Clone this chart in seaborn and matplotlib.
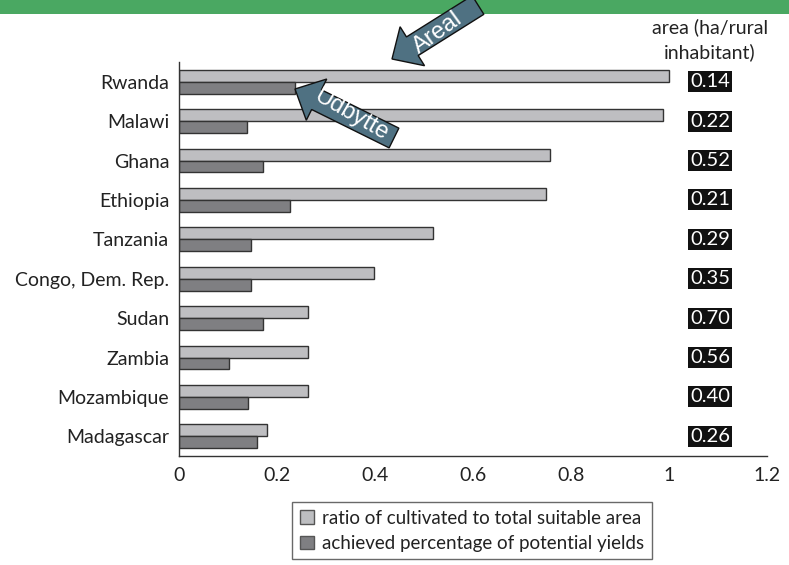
import numpy as np
import pandas as pd
import seaborn as sns
import matplotlib.pyplot as plt
import matplotlib.patches as mpatches

# donnees
countries = ["Rwanda", "Malawi", "Ghana", "Ethiopia", "Tanzania",
             "Congo, Dem. Rep.", "Sudan", "Zambia", "Mozambique", "Madagascar"]
ratio_area = [1.0, 0.988, 0.757, 0.748, 0.518, 0.397, 0.263, 0.263, 0.263, 0.179]
pct_yield = [0.236, 0.139, 0.171, 0.226, 0.146, 0.146, 0.171, 0.102, 0.141, 0.159]
area_labels = ["0.14", "0.22", "0.52", "0.21", "0.29", "0.35", "0.70", "0.56", "0.40", "0.26"]
series = ["ratio of cultivated to total suitable area",
          "achieved percentage of potential yields"]
x_ticks = [0, 0.2, 0.4, 0.6, 0.8, 1, 1.2]
x_ticklabels = ["0", "0.2", "0.4", "0.6", "0.8", "1", "1.2"]

df = pd.DataFrame({
    "country": countries * 2,
    "value": ratio_area + pct_yield,
    "serie": [series[0]] * len(countries) + [series[1]] * len(countries),
})

sns.set_style("white")
plt.rcParams['font.family'] = ['Lato', 'DejaVu Sans']
txt = '#222222'

W, H = 789, 565
fig = plt.figure(figsize=(W / 100, H / 100), dpi=100)
ax = fig.add_axes([179 / W, 1 - 456 / H, 588 / W, (456 - 62) / H])

sns.barplot(data=df, x="value", y="country", hue="serie", orient="h",
            palette=["#bdbec1", "#7f7f82"], width=0.6, edgecolor="#333333",
            linewidth=1, legend=False, ax=ax)

ax.set_xlim(0, 1.2)
ax.set_ylim(len(countries) - 0.5, -0.5)
ax.set_xlabel("")
ax.set_ylabel("")
ax.set_xticks(x_ticks)
ax.set_xticklabels(x_ticklabels, fontsize=14, color=txt)

# ticks aux limites des categories, etiquettes au centre
ax.set_yticks(np.arange(len(countries) - 1) + 0.5)
ax.set_yticklabels([])
ax.set_yticks(np.arange(len(countries)), minor=True)
ax.set_yticklabels(countries, minor=True, fontsize=14, color=txt)
ax.tick_params(axis="y", which="major", direction="out", length=6, width=1, color="#333333")
ax.tick_params(axis="y", which="minor", length=0, pad=7)
ax.tick_params(axis="x", direction="out", length=6, width=1, color="#333333", pad=2)
for s in ["top", "right"]:
    ax.spines[s].set_visible(False)
for s in ["left", "bottom"]:
    ax.spines[s].set_color("#333333")
    ax.spines[s].set_linewidth(1)

# surface par habitant rural
for i, lab in enumerate(area_labels):
    ax.text(1.084, i, lab, ha="center", va="center", fontsize=14.5, color="white",
            bbox=dict(boxstyle="square,pad=0.1", facecolor="#111111", edgecolor="none"))
fig.text(710 / W, 1 - 27 / H, "area (ha/rural", ha="center", va="center", fontsize=14, color=txt)
fig.text(710 / W, 1 - 52 / H, "inhabitant)", ha="center", va="center", fontsize=14, color=txt)

# bandeau vert
fig.add_artist(mpatches.Rectangle((0, 1 - 14 / H), 1, 14 / H, transform=fig.transFigure,
                                  facecolor="#4aa862", edgecolor="none", zorder=5))

# fleches
def pix(x, y):
    return x / 100, (H - y) / 100

def fleche(tail, tip, label, rot, center):
    x0, y0 = pix(*tail)
    x1, y1 = pix(*tip)
    arr = mpatches.FancyArrow(x0, y0, x1 - x0, y1 - y0, width=0.22, head_width=0.46,
                              head_length=0.24, length_includes_head=True,
                              transform=fig.dpi_scale_trans, facecolor="#4f7182",
                              edgecolor="#111111", linewidth=1, zorder=10)
    fig.add_artist(arr)
    cx, cy = center
    fig.text(cx / W, 1 - cy / H, label, rotation=rot, rotation_mode="anchor",
             ha="center", va="center", fontsize=17, color="white",
             family="Liberation Sans", zorder=11)

fleche((478, 5), (392, 59), "Areal", 36, (438, 33))
fleche((394, 138), (295, 89), "Udbytte", -30, (351, 115))

leg_handles = [mpatches.Patch(facecolor="#bdbec1", edgecolor="#555555", label=series[0]),
               mpatches.Patch(facecolor="#7f7f82", edgecolor="#555555", label=series[1])]
leg = fig.legend(handles=leg_handles, loc="upper left", bbox_to_anchor=(292 / W, 1 - 502 / H),
                 fontsize=13.5, frameon=True, fancybox=False, handlelength=0.75,
                 handleheight=0.75, handletextpad=0.45, labelspacing=0.45,
                 borderpad=0.4, borderaxespad=0)
leg.get_frame().set_edgecolor("#444444")
leg.get_frame().set_linewidth(1)
for t in leg.get_texts():
    t.set_color(txt)

fig.savefig("out.png", dpi=100)
